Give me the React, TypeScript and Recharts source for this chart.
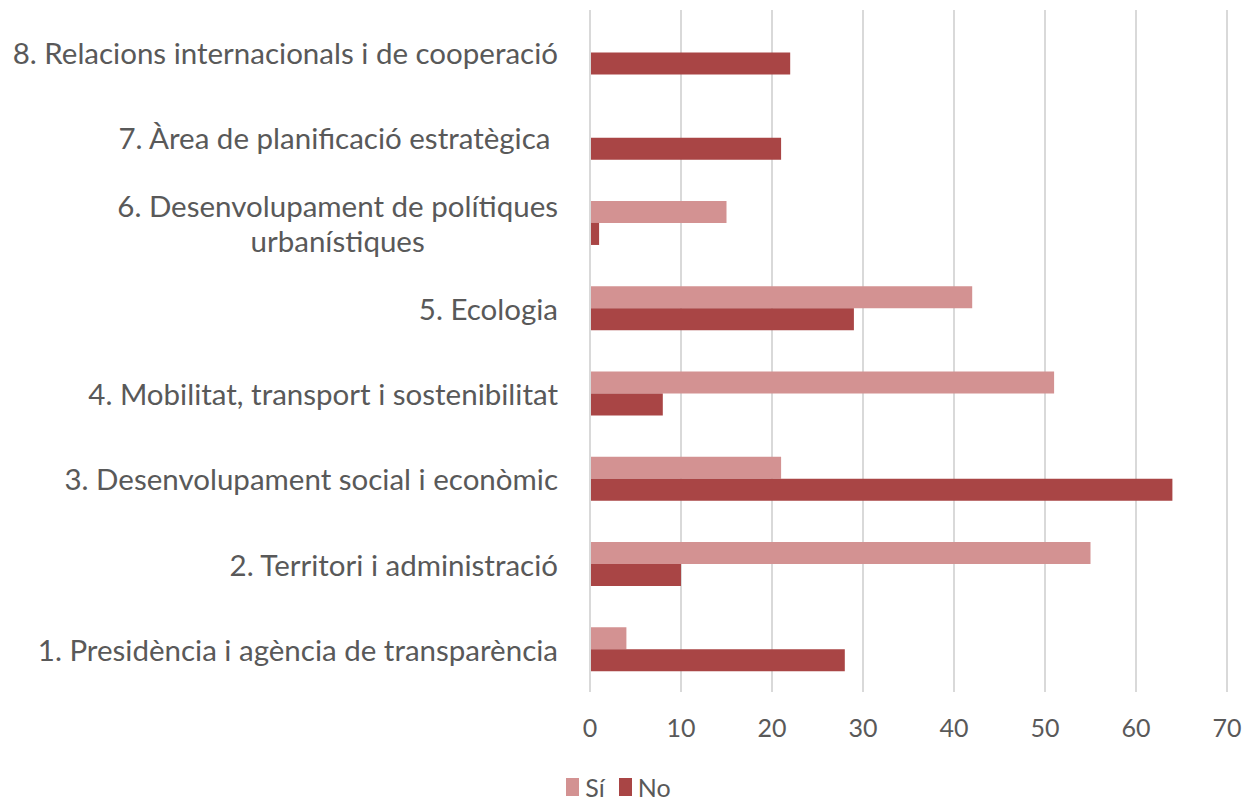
import { BarChart, Bar, XAxis, YAxis, CartesianGrid, Legend } from 'recharts'

const categories = [
  '8. Relacions internacionals i de cooperació',
  '7. Àrea de planificació estratègica ',
  '6. Desenvolupament de polítiques urbanístiques',
  '5. Ecologia',
  '4. Mobilitat, transport i sostenibilitat',
  '3. Desenvolupament social i econòmic',
  '2. Territori i administració',
  '1. Presidència i agència de transparència',
]
const siValues = [0, 0, 15, 42, 51, 21, 55, 4]
const noValues = [22, 21, 1, 29, 8, 64, 10, 28]
const xTicks = [0, 10, 20, 30, 40, 50, 60, 70]

const SI_COLOR = '#D39292'
const NO_COLOR = '#A94545'
const TEXT_COLOR = '#595959'
const FONT = 'Lato, sans-serif'
const LABEL_SIZE = 29.5
const TICK_SIZE = 25

const data = categories.map((name, i) => ({ name, si: siValues[i], no: noValues[i] }))

let ctx: CanvasRenderingContext2D | null = null
function measure(text: string) {
  if (!ctx) ctx = document.createElement('canvas').getContext('2d')
  if (!ctx) return text.length * 14
  ctx.font = `${LABEL_SIZE}px Lato`
  return ctx.measureText(text).width
}

// wrap long labels the way the spreadsheet did (centered lines)
function splitLabel(label: string): string[] {
  if (label.length <= 44) return [label]
  const words = label.split(' ')
  const lines: string[] = []
  let cur = ''
  for (const w of words) {
    const next = cur ? cur + ' ' + w : w
    if (next.length > 34 && cur) {
      lines.push(cur)
      cur = w
    } else cur = next
  }
  if (cur) lines.push(cur)
  return lines
}

function CategoryTick(props: any) {
  const { x, y, payload } = props
  const lines = splitLabel(payload.value)
  const lineH = 35
  if (lines.length === 1) {
    return (
      <text x={x} y={y} textAnchor="end" dominantBaseline="central" fill={TEXT_COLOR}
        fontFamily={FONT} fontSize={LABEL_SIZE} style={{ whiteSpace: 'pre' }}>
        {payload.value}
      </text>
    )
  }
  const cx = x - measure(lines[0]) / 2
  const y0 = y - ((lines.length - 1) * lineH) / 2
  return (
    <g>
      {lines.map((l, i) => (
        <text key={i} x={cx} y={y0 + i * lineH} textAnchor="middle" dominantBaseline="central"
          fill={TEXT_COLOR} fontFamily={FONT} fontSize={LABEL_SIZE}>
          {l}
        </text>
      ))}
    </g>
  )
}

function LegendContent() {
  const items = [
    { label: 'Sí', color: SI_COLOR },
    { label: 'No', color: NO_COLOR },
  ]
  return (
    <div style={{ display: 'flex', justifyContent: 'center', gap: 14, fontFamily: FONT, fontSize: TICK_SIZE, color: TEXT_COLOR, paddingLeft: 10 }}>
      {items.map((it) => (
        <div key={it.label} style={{ display: 'flex', alignItems: 'center', gap: 6 }}>
          <span style={{ display: 'inline-block', width: 13, height: 18, background: it.color }} />
          <span>{it.label}</span>
        </div>
      ))}
    </div>
  )
}

export default function App() {
  return (
    <div style={{ position: 'absolute', left: 0, top: 0, width: 1248, height: 802, background: '#fff' }}>
      <BarChart
        width={1248}
        height={802}
        data={data}
        layout="vertical"
        margin={{ top: 10, right: 21, bottom: 0, left: 0 }}
        barCategoryGap="24%"
        barGap={0}
      >
        <CartesianGrid horizontal={false} stroke="#D9D9D9" strokeWidth={2} />
        <XAxis
          type="number"
          domain={[0, 70]}
          ticks={xTicks}
          axisLine={false}
          tickLine={false}
          tick={{ fill: TEXT_COLOR, fontFamily: FONT, fontSize: TICK_SIZE }}
          tickMargin={21}
          height={80}
        />
        <YAxis
          type="category"
          dataKey="name"
          width={590}
          axisLine={{ stroke: '#D9D9D9', strokeWidth: 2 }}
          tickLine={false}
          tick={<CategoryTick />}
          tickMargin={26}
          interval={0}
        />
        <Legend verticalAlign="bottom" content={<LegendContent />} wrapperStyle={{ bottom: 0 }} />
        <Bar dataKey="si" name="Sí" fill={SI_COLOR} isAnimationActive={false} />
        <Bar dataKey="no" name="No" fill={NO_COLOR} isAnimationActive={false} />
      </BarChart>
    </div>
  )
}
